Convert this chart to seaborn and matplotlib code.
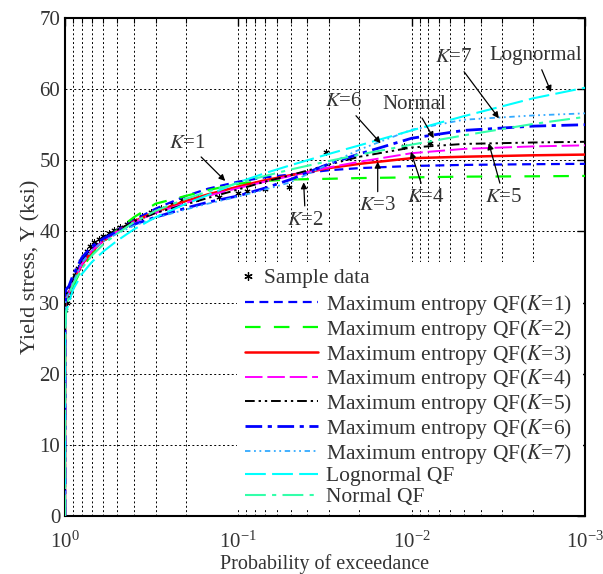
import numpy as np
import pandas as pd
import matplotlib
matplotlib.use("Agg")
import matplotlib.pyplot as plt
import seaborn as sns
from matplotlib.lines import Line2D
from matplotlib.patches import Rectangle
from matplotlib.ticker import LogLocator, NullFormatter, FixedLocator

# ---------------- data ----------------
prob = [1.0, 0.999, 0.99, 0.95, 0.9, 0.8, 0.7, 0.6, 0.5, 0.4, 0.3, 0.2, 0.15,
        0.1, 0.07, 0.05, 0.03, 0.02, 0.01, 0.005, 0.002, 0.001]

me_k1 = [0, 28.0, 31.5, 32.0, 33.2, 35.8, 37.5, 38.9, 40.2, 41.6, 43.2, 45.0, 46.0,
         47.0, 47.6, 48.0, 48.6, 48.9, 49.2, 49.35, 49.45, 49.5]
me_k2 = [0, 27.0, 30.5, 31.0, 32.3, 34.8, 36.8, 38.5, 40.2, 42.0, 43.9, 45.0, 45.8,
         46.7, 47.1, 47.3, 47.4, 47.5, 47.6, 47.7, 47.75, 47.8]
me_k3 = [0, 27.5, 30.5, 31.3, 32.8, 35.3, 37.2, 38.7, 40.0, 41.4, 42.8, 44.3, 45.2,
         46.3, 47.2, 47.9, 48.9, 49.5, 50.3, 50.5, 50.7, 50.8]
me_k4 = [0, 27.5, 30.5, 31.3, 32.8, 35.4, 37.3, 38.7, 40.0, 41.3, 42.6, 44.0, 45.0,
         46.1, 47.0, 47.8, 49.0, 49.8, 51.0, 51.6, 51.95, 52.1]
me_k5 = [0, 28.0, 31.0, 31.8, 33.3, 36.1, 37.8, 39.1, 40.2, 41.4, 42.6, 43.8, 44.7,
         45.9, 47.0, 47.9, 49.4, 50.5, 51.8, 52.3, 52.5, 52.6]
me_k6 = [0, 28.0, 31.8, 32.3, 33.8, 36.3, 37.9, 39.0, 40.0, 41.0, 42.0, 43.3, 44.1,
         45.0, 46.1, 47.3, 49.5, 50.9, 53.1, 54.2, 54.8, 55.0]
me_k7 = [0, 27.5, 30.5, 31.3, 32.8, 35.6, 37.3, 38.6, 39.7, 40.8, 41.9, 43.1, 43.9,
         44.9, 45.9, 46.9, 49.5, 51.5, 54.3, 55.7, 56.3, 56.6]
lognormal_qf = [0, 25.7, 28.5, 30.0, 31.8, 34.0, 35.7, 37.2, 38.7, 40.3, 42.0, 43.9, 45.1,
                46.9, 48.2, 49.3, 50.9, 52.1, 54.2, 56.2, 58.7, 60.2]
normal_qf = [0, 24.5, 28.4, 31.0, 32.6, 34.8, 36.6, 38.2, 39.7, 41.3, 42.9, 44.6, 45.6,
             46.8, 47.8, 48.7, 49.9, 50.8, 52.2, 53.5, 55.1, 56.1]

sample_prob = [0.995, 0.98, 0.96, 0.94, 0.92, 0.90, 0.87, 0.84, 0.81, 0.78, 0.75, 0.72,
               0.68, 0.64, 0.60, 0.56, 0.52, 0.48, 0.44, 0.40, 0.36, 0.32, 0.28, 0.24,
               0.21, 0.17, 0.13, 0.10, 0.089, 0.07, 0.051, 0.031, 0.011, 0.0078]
sample_stress = [29.0, 30.0, 30.8, 31.5, 32.2, 32.9, 33.9, 34.9, 35.8, 36.6, 37.3, 37.9,
                 38.5, 39.0, 39.4, 39.8, 40.2, 40.6, 41.1, 41.6, 42.2, 42.8, 43.3, 43.8,
                 44.4, 44.7, 44.8, 45.4, 45.7, 46.0, 46.3, 51.1, 52.0, 52.4]

series_labels = ["Maximum entropy QF($K$=1)", "Maximum entropy QF($K$=2)",
                 "Maximum entropy QF($K$=3)", "Maximum entropy QF($K$=4)",
                 "Maximum entropy QF($K$=5)", "Maximum entropy QF($K$=6)",
                 "Maximum entropy QF($K$=7)", "Lognormal QF", "Normal QF"]
series_values = [me_k1, me_k2, me_k3, me_k4, me_k5, me_k6, me_k7, lognormal_qf, normal_qf]

y_ticks = [0, 10, 20, 30, 40, 50, 60, 70]
x_ticks = [1, 0.1, 0.01, 0.001]

# annotations: label, arrow tip (p, Y), text position (p, Y)
annot_labels = ["$K$=1", "$K$=2", "$K$=3", "$K$=4", "$K$=5", "$K$=6", "Normal", "$K$=7", "Lognormal"]
annot_tips = [(0.119, 47.1), (0.042, 46.9), (0.0157, 49.8), (0.0101, 51.2), (0.00359, 52.4),
              (0.0151, 52.4), (0.00746, 53.1), (0.00314, 55.9), (0.00157, 59.6)]
annot_text = [(0.197, 52.4), (0.041, 41.6), (0.0157, 43.6), (0.0083, 44.8), (0.00294, 44.8),
              (0.0247, 58.2), (0.0097, 57.9), (0.00572, 64.4), (0.00192, 64.7)]

# ---------------- style ----------------
sns.set_style("white")
plt.rcParams["font.family"] = ["Liberation Serif", "DejaVu Serif"]
plt.rcParams["mathtext.fontset"] = "stix"

colors = ["#0000FF", "#00FF00", "#FF0000", "#FF00FF", "#000000", "#0000FF",
          "#33AAFF", "#00FFFF", "#33FFAA"]
dashes = [(4, 2.5), (7, 6), (), (9, 2.5), (5, 2, 1.2, 2, 1.2, 2), (6, 2, 1.5, 2),
          (3, 2, 1, 2, 1, 2), (10, 3), (10, 3, 2, 3)]
widths = [1.6, 1.6, 1.8, 1.4, 1.4, 2.0, 1.3, 1.5, 1.5]

txtc = "#333333"

fig = plt.figure(figsize=(6.03, 5.74), dpi=100)
ax = fig.add_axes([65 / 603, 1 - 516 / 574, 520 / 603, 498 / 574])

handles = []
for lab, vals, c, d, w in zip(series_labels, series_values, colors, dashes, widths):
    df = pd.DataFrame({"p": prob, "y": vals})
    sns.lineplot(data=df, x="p", y="y", ax=ax, color=c, lw=w, sort=False,
                 estimator=None, zorder=3)
    ln = ax.lines[-1]
    h = Line2D([], [], color=c, lw=w, linestyle="--" if d else "-")
    if d:
        ln.set_dashes(d)
        h.set_dashes(d)
    handles.append(h)

sdf = pd.DataFrame({"p": sample_prob, "y": sample_stress})
sns.scatterplot(data=sdf, x="p", y="y", ax=ax, marker=(6, 2, 0), s=14,
                color="black", linewidth=0.8, zorder=2.8)

ax.set_xscale("log")
ax.set_xlim(1, 1e-3)
ax.set_ylim(0, 70)
ax.xaxis.set_major_locator(FixedLocator(x_ticks))
ax.xaxis.set_minor_locator(LogLocator(base=10, subs=np.arange(2, 10)))
ax.xaxis.set_minor_formatter(NullFormatter())
ax.set_yticks(y_ticks)

ax.set_axisbelow(True)
ax.grid(True, which="both", axis="x", color="black", linestyle=(0, (2, 2.5)), lw=0.7)
ax.grid(True, which="major", axis="y", color="black", linestyle=(0, (2, 2.5)), lw=0.7)

for s in ax.spines.values():
    s.set_color("black")
    s.set_linewidth(1.5)
ax.tick_params(which="both", direction="in", top=True, right=True, colors="black",
               labelcolor=txtc, labelsize=15)
ax.tick_params(which="major", length=6, width=1)
ax.tick_params(which="minor", length=3.5, width=0.8)
ax.tick_params(axis="x", pad=11)

ax.set_xlabel("Probability of exceedance", fontsize=14.5, color=txtc, labelpad=1)
ax.set_ylabel("Yield stress, Y (ksi)", fontsize=16, color=txtc, labelpad=-1)

# white background behind legend
ax.add_patch(Rectangle(((237 - 65) / 520, 0.012), 1 - (237 - 65) / 520 - 0.003,
                       (516 - 262) / 498 - 0.012, transform=ax.transAxes,
                       facecolor="white", edgecolor="none", zorder=2.5))

leg_s = ax.legend([Line2D([], [], ls="none", marker=(6, 2, 0), color="black",
                          markersize=6, markeredgewidth=0.9)],
                  ["Sample data"], loc="upper left",
                  bbox_to_anchor=((240 - 65) / 520, (516 - 268) / 498),
                  frameon=False, handlelength=0.75, handletextpad=0.35,
                  borderpad=0, borderaxespad=0, fontsize=15.5, labelcolor=txtc)
leg_s.set_zorder(6)
ax.add_artist(leg_s)
leg = ax.legend(handles, series_labels, loc="upper left",
                bbox_to_anchor=((245 - 65) / 520, (516 - 293) / 498),
                frameon=False, handlelength=3.4, handletextpad=0.35,
                labelspacing=0.035, borderpad=0, borderaxespad=0,
                fontsize=15.5, labelcolor=txtc)
leg.set_zorder(6)

for lab, tip, tpos in zip(annot_labels, annot_tips, annot_text):
    ax.annotate(lab, xy=tip, xytext=tpos, fontsize=15, color=txtc,
                ha="center", va="center", zorder=7,
                arrowprops=dict(arrowstyle="-|>", color="black", lw=0.9,
                                mutation_scale=9, shrinkA=1, shrinkB=0))

fig.savefig("out.png", dpi=100)
